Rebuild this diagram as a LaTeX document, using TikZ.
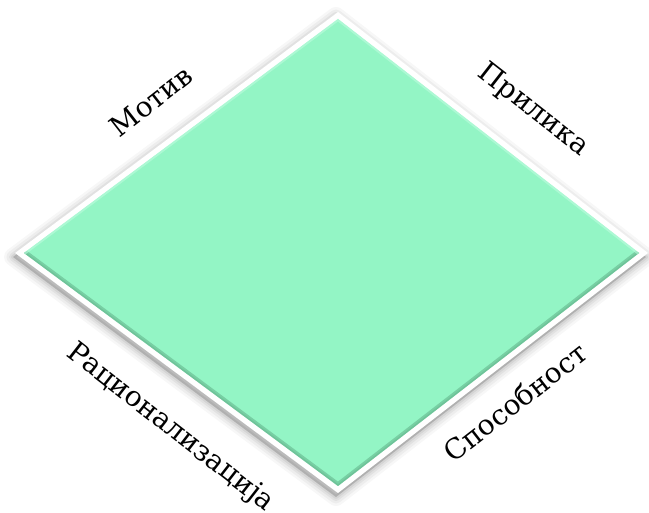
\documentclass[tikz,border=0pt]{standalone}
\usepackage{fontspec}
\setmainfont{DejaVu Serif}
\definecolor{mint}{RGB}{147,245,197}
\definecolor{mintdark}{RGB}{92,170,130}
\definecolor{mintlight}{RGB}{190,252,222}
\tikzset{side label/.style={font=\fontsize{28}{28}\selectfont, inner sep=0pt, text=black}}

\begin{document}
\begin{tikzpicture}[x=1pt, y=-1pt]
    \useasboundingbox (0,0) rectangle (649,513);

    % outer corners (white frame)
    \coordinate (top)    at (338,12);
    \coordinate (left)   at (15,253);
    \coordinate (right)  at (648,253);
    \coordinate (bottom) at (338,493);
    % inner corners (green face)
    \coordinate (itop)    at (338,19);
    \coordinate (ileft)   at (24,253);
    \coordinate (iright)  at (639,253);
    \coordinate (ibottom) at (338,486);

    % soft shadow
    \foreach \w/\o in {18/0.03, 13/0.04, 8/0.05, 4/0.06}
        \filldraw[black, opacity=\o, line width=\w pt, line join=round]
            ([shift={(-2,4)}]top) -- ([shift={(-2,4)}]right)
            -- ([shift={(-2,4)}]bottom) -- ([shift={(-2,4)}]left) -- cycle;

    % frame and face
    \fill[white] (top) -- (right) -- (bottom) -- (left) -- cycle;
    \fill[mint] (itop) -- (iright) -- (ibottom) -- (ileft) -- cycle;

    % bevel
    \begin{scope}
        \clip (itop) -- (iright) -- (ibottom) -- (ileft) -- cycle;
        \draw[mintdark, opacity=0.5, line width=7pt] (ileft) -- (ibottom) -- (iright);
        \draw[mintdark, opacity=0.3, line width=3pt] (ileft) -- (ibottom) -- (iright);
        \draw[mintlight, opacity=0.6, line width=4pt] (ileft) -- (itop) -- (iright);
    \end{scope}

    % labels
    \node[side label, rotate=38]  (motiv)   at (151,101) {Мотив};
    \node[side label, rotate=-38] (prilika) at (533,110) {Прилика};
    \node[side label, rotate=-38] (racio)   at (170,428) {Рационализација};
    \node[side label, rotate=38]  (sposob)  at (515,402) {Способност};
\end{tikzpicture}
\end{document}
